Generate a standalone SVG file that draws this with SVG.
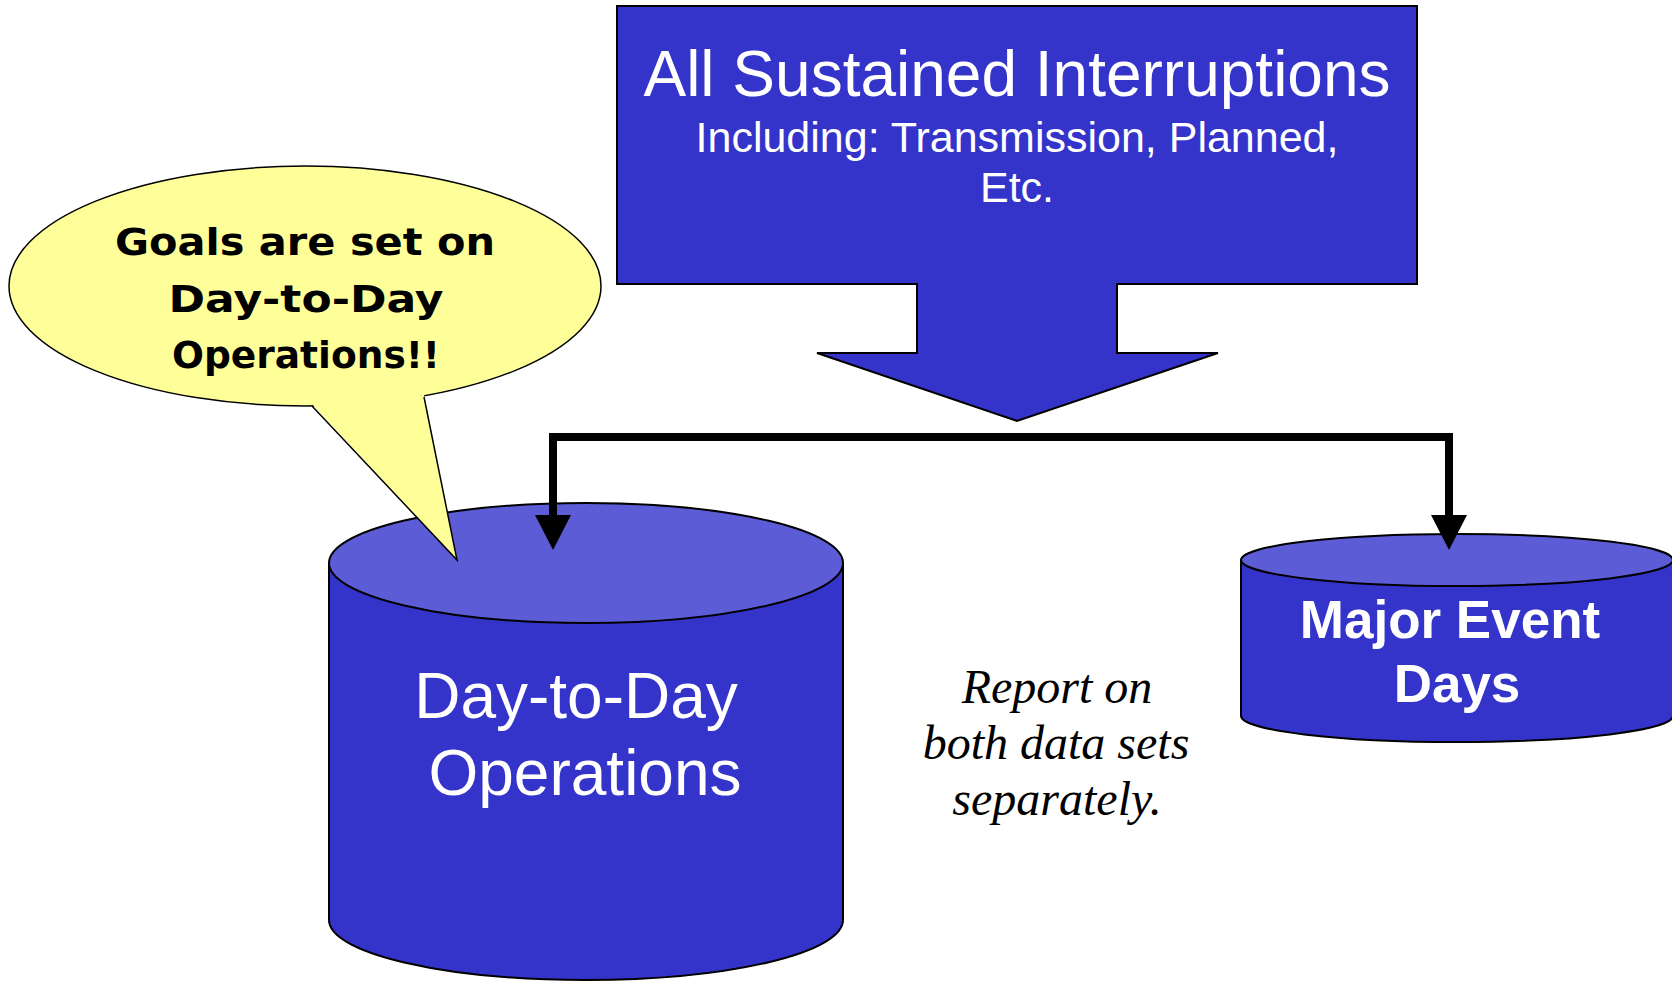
<svg xmlns="http://www.w3.org/2000/svg" width="1672" height="982" viewBox="0 0 1672 982">
<style>
.blue{fill:#3434CB;stroke:#000;stroke-width:2}
.top{fill:#5C5CD6;stroke:#000;stroke-width:2}
.wt{fill:#fff;font-family:"Liberation Sans",Arial,sans-serif;text-anchor:middle}
.bub{fill:#000;font-family:"Comic Sans MS","DejaVu Sans",sans-serif;font-weight:bold;text-anchor:middle;font-size:38px}
.it{fill:#000;font-family:"Liberation Serif","Times New Roman",serif;font-style:italic;font-size:48px;text-anchor:middle}
.conn{fill:none;stroke:#000;stroke-width:8}
.yel{fill:#FFFF99;stroke:#000;stroke-width:1.5}
</style>
<rect width="1672" height="982" fill="#fff"/>

<g id="source">
<path class="blue" d="M617,6 H1417 V284 H1117 V353 H1218 L1017,421 L817,353 H917 V284 H617 Z"/>
<text class="wt" x="1017" y="96" font-size="64">All Sustained Interruptions</text>
<text class="wt" x="1017" y="152" font-size="43">Including: Transmission, Planned,</text>
<text class="wt" x="1017" y="202" font-size="43">Etc.</text>
</g>

<g id="day-to-day">
<path class="blue" d="M329,563 V920 A257,60 0 0 0 843,920 V563 Z"/>
<ellipse class="top" cx="586" cy="563" rx="257" ry="60"/>
<text class="wt" x="576" y="718" font-size="64">Day-to-Day</text>
<text class="wt" x="585" y="795" font-size="64">Operations</text>
</g>

<g id="major-event">
<path class="blue" d="M1241,560 V716 A216,26 0 0 0 1673,716 V560 Z"/>
<ellipse class="top" cx="1457" cy="560" rx="216" ry="26"/>
<text class="wt" x="1450" y="638" font-size="53" font-weight="bold">Major Event</text>
<text class="wt" x="1457" y="702" font-size="53" font-weight="bold">Days</text>
</g>

<g id="connectors">
<path class="conn" d="M553,520 V437 H1449 V520"/>
<polygon points="535,515 571,515 553,550" fill="#000"/>
<polygon points="1431,515 1467,515 1449,550" fill="#000"/>
</g>

<g id="callout">
<ellipse class="yel" cx="305" cy="286" rx="296" ry="120"/>
<polygon points="312,404 457,560 424,395" fill="#FFFF99"/>
<polyline points="312,406 457,560 424,397" fill="none" stroke="#000" stroke-width="1.5"/>
<text class="bub" x="305" y="255" textLength="380" lengthAdjust="spacingAndGlyphs">Goals are set on</text>
<text class="bub" x="306" y="312" textLength="275" lengthAdjust="spacingAndGlyphs">Day-to-Day</text>
<text class="bub" x="306" y="368" textLength="268" lengthAdjust="spacingAndGlyphs">Operations!!</text>
</g>

<g id="note">
<text class="it" x="1057" y="703">Report on</text>
<text class="it" x="1056" y="759">both data sets</text>
<text class="it" x="1057" y="815">separately.</text>
</g>
</svg>
